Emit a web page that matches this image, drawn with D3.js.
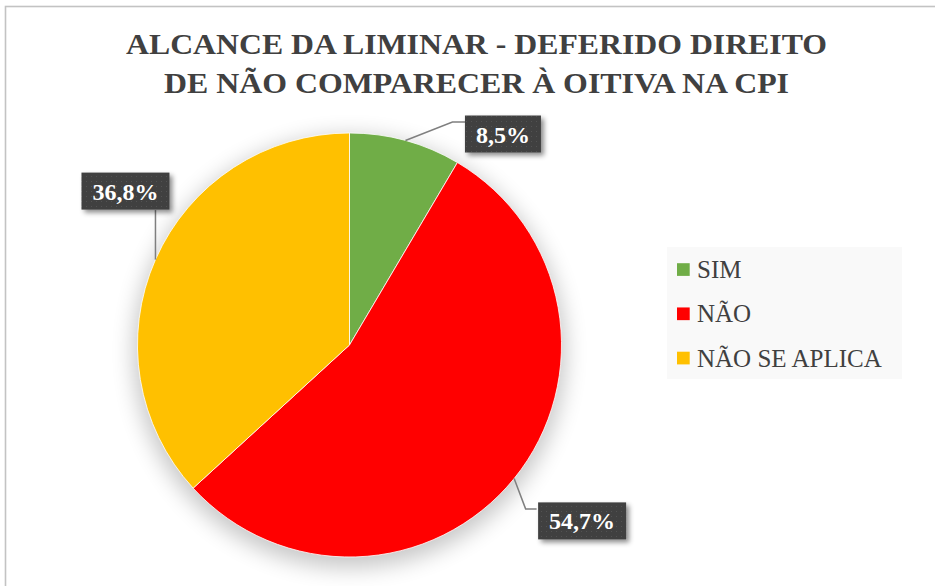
<!DOCTYPE html>
<html><head><meta charset="utf-8">
<script src="https://cdn.jsdelivr.net/npm/d3@7"></script>
<style>body{margin:0;background:#fff}svg{display:block}
.serif{font-family:"Liberation Serif","Times New Roman",Tinos,"DejaVu Serif",serif}</style>
</head><body><svg id="c" width="935" height="586"></svg>
<script>
const categories = ["SIM", "NÃO", "NÃO SE APLICA"];
const values = [8.5, 54.7, 36.8];
const valueLabels = ["8,5%", "54,7%", "36,8%"];
const colors = ["#70ad47", "#ff0000", "#ffc000"];
const titleLines = ["ALCANCE DA LIMINAR - DEFERIDO DIREITO", "DE NÃO COMPARECER À OITIVA NA CPI"];

// manual label placement (relative to the slice's outer edge point at mid-angle)
const labelLayout = [
  {leader: [[47, -18.5], [60, -18.5]], box: [97.5, -6.5]},
  {leader: [[11.5, 30.3], [22.5, 30.3]], box: [68, 42.3]},
  {leader: [[0, -49.5]], box: [-30, -68.5]}
];

const W = 935, H = 586;
const cx = 349.5, cy = 345, R = 212;
const svg = d3.select("#c");
const defs = svg.append("defs");

const pieShadow = defs.append("filter").attr("id", "pieShadow")
  .attr("x", "-30%").attr("y", "-30%").attr("width", "160%").attr("height", "160%");
pieShadow.append("feGaussianBlur").attr("stdDeviation", 11);

const boxShadow = defs.append("filter").attr("id", "boxShadow")
  .attr("x", "-30%").attr("y", "-30%").attr("width", "160%").attr("height", "160%");
boxShadow.append("feDropShadow").attr("dx", 3).attr("dy", 3).attr("stdDeviation", 2.5)
  .attr("flood-color", "#000").attr("flood-opacity", 0.45);

const pat = defs.append("pattern").attr("id", "dots").attr("patternUnits", "userSpaceOnUse")
  .attr("width", 5).attr("height", 5);
pat.append("rect").attr("width", 5).attr("height", 5).attr("fill", "#404040");
pat.append("rect").attr("x", 1).attr("y", 1).attr("width", 1).attr("height", 1).attr("fill", "#525252");

svg.append("rect").attr("width", W).attr("height", H).attr("fill", "#fff");
// chart frame
svg.append("rect").attr("x", 5.5).attr("y", 6.5).attr("width", W + 20).attr("height", H + 20)
  .attr("fill", "none").attr("stroke", "#c3c3c3").attr("stroke-width", 1.6);

// title
const title = svg.append("g").attr("class", "serif").attr("fill", "#404040")
  .attr("font-weight", "bold").attr("font-size", 30).attr("text-anchor", "middle");
const titleBase = [54, 93], titleWidth = [701, 625];
titleLines.forEach((t, i) => {
  title.append("text").attr("x", 476.5).attr("y", titleBase[i])
    .attr("textLength", titleWidth[i]).attr("lengthAdjust", "spacingAndGlyphs").text(t);
});

// pie
const pie = d3.pie().sort(null).value(d => d)(values);
const arc = d3.arc().innerRadius(0).outerRadius(R);
const g = svg.append("g").attr("transform", `translate(${cx},${cy})`);
g.append("circle").attr("r", R + 4).attr("cy", 7).attr("fill", "#000").attr("opacity", 0.22)
  .attr("filter", "url(#pieShadow)");
g.selectAll("path.slice").data(pie).join("path").attr("class", "slice")
  .attr("d", arc).attr("fill", (d, i) => colors[i])
  .attr("stroke", "#fff").attr("stroke-width", 0.8);

// data labels
const labG = svg.append("g");
pie.forEach((d, i) => {
  const a = (d.startAngle + d.endAngle) / 2;
  const px = cx + R * Math.sin(a), py = cy - R * Math.cos(a);
  const L = labelLayout[i];
  const pts = [[px, py]].concat(L.leader.map(p => [px + p[0], py + p[1]]));
  labG.append("path").attr("d", d3.line()(pts)).attr("fill", "none")
    .attr("stroke", "#7f7f7f").attr("stroke-width", 1.5);
  const bx = px + L.box[0], by = py + L.box[1];
  const bg = labG.append("g");
  const txt = bg.append("text").attr("class", "serif").attr("x", bx).attr("y", by + 8.5)
    .attr("text-anchor", "middle").attr("font-weight", "bold")
    .attr("font-size", 24).attr("fill", "#fff").text(valueLabels[i]);
  const tw = txt.node().getComputedTextLength();
  const bw = tw + 22, bh = 37;
  bg.insert("rect", "text").attr("x", bx - bw / 2).attr("y", by - bh / 2)
    .attr("width", bw).attr("height", bh).attr("fill", "url(#dots)")
    .attr("filter", "url(#boxShadow)");
});

// legend
const leg = svg.append("g");
leg.append("rect").attr("x", 667).attr("y", 247).attr("width", 235).attr("height", 132).attr("fill", "#f9f9f9");
const ly = d3.scalePoint().domain(categories).range([269.5, 358]);
categories.forEach((c, i) => {
  leg.append("rect").attr("x", 677).attr("y", ly(c) - 6.3).attr("width", 12.7).attr("height", 12.7)
    .attr("fill", colors[i]);
  leg.append("text").attr("class", "serif").attr("x", 697).attr("y", ly(c) + 8.5)
    .attr("font-size", 25).attr("fill", "#404040").text(c);
});
</script></body></html>
